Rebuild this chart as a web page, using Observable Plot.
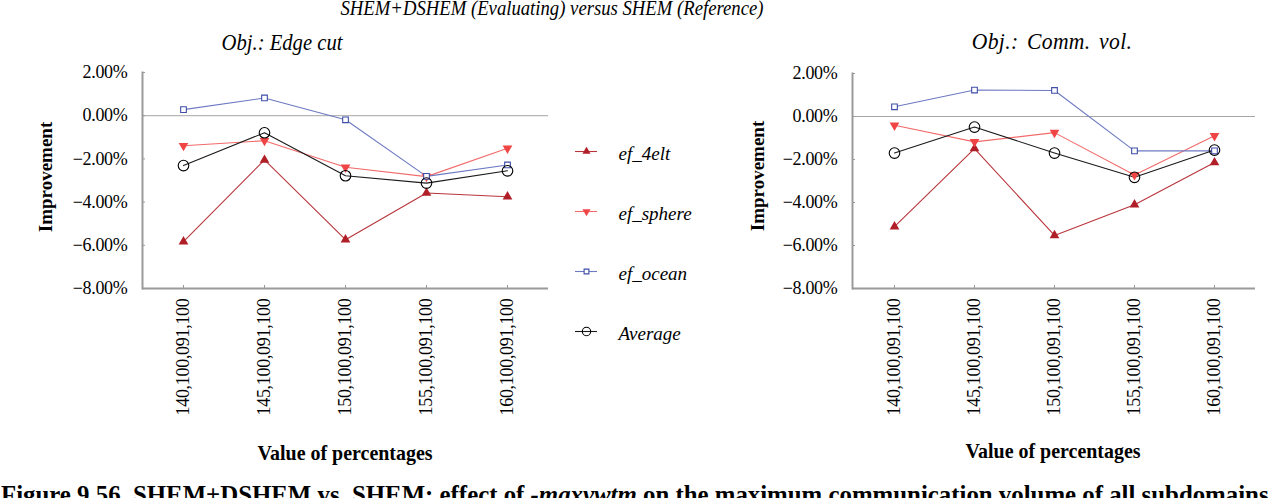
<!DOCTYPE html>
<html><head><meta charset="utf-8">
<script src="https://cdn.jsdelivr.net/npm/d3@7"></script>
<script src="https://cdn.jsdelivr.net/npm/@observablehq/plot@0.6"></script>
<style>
body{margin:0;background:#fff;}
#root{position:relative;width:1278px;height:498px;overflow:hidden;font-family:"Times New Roman",Times,"Liberation Serif","DejaVu Serif",serif;color:#000;}
.abs{position:absolute;white-space:nowrap;line-height:1;}
#root svg{position:absolute;overflow:visible;}
#root svg text{font-family:"Times New Roman",Times,"Liberation Serif","DejaVu Serif",serif;}
</style></head><body><div id="root"></div>
<script>
// ---- data ----
const categories = ["140,100,091,100", "145,100,091,100", "150,100,091,100", "155,100,091,100", "160,100,091,100"];
const seriesNames = ["ef_4elt", "ef_sphere", "ef_ocean", "Average"];
const yTicks = [0.02, 0, -0.02, -0.04, -0.06, -0.08];

// Obj.: Edge cut (percent)
const edge_ef4elt   = [-5.83, -2.05, -5.74, -3.58, -3.75];
const edge_efsphere = [-1.39, -1.16, -2.39, -2.82, -1.51];
const edge_efocean  = [0.28, 0.82, -0.19, -2.81, -2.28];
const edge_average  = [-2.31, -0.79, -2.78, -3.12, -2.55];

// Obj.: Comm. vol. (percent)
const comm_ef4elt   = [-5.12, -1.49, -5.53, -4.10, -2.14];
const comm_efsphere = [-0.41, -1.18, -0.75, -2.72, -0.90];
const comm_efocean  = [0.45, 1.23, 1.21, -1.60, -1.60];
const comm_average  = [-1.70, -0.49, -1.70, -2.83, -1.56];

// ---- styles ----
const styles = {
  "ef_4elt":   {line: "#b8353c", fill: "#b01e28", stroke: "none", symbol: "triangle", rotate: 0,   r: 3.6, lr: 3.0},
  "ef_sphere": {line: "#f26a6a", fill: "#f04545", stroke: "none", symbol: "triangle", rotate: 180, r: 3.6, lr: 3.0},
  "ef_ocean":  {line: "#6d79c2", fill: "white",   stroke: "#3f4ea8", symbol: "square",  rotate: 0,   r: 3.2, lr: 2.7},
  "Average":   {line: "#1a1a1a", fill: "none",    stroke: "#000", symbol: "circle",   rotate: 0,   r: 5.3, lr: 4.2}
};

function table(arrs) {
  const rows = [];
  seriesNames.forEach((s, i) => arrs[i].forEach((v, j) => rows.push({series: s, cat: categories[j], value: v / 100})));
  return rows;
}
const edgeRows = table([edge_ef4elt, edge_efsphere, edge_efocean, edge_average]);
const commRows = table([comm_ef4elt, comm_efsphere, comm_efocean, comm_average]);

const root = document.getElementById("root");
const fmt = d3.format(".2%");
const FONT = '"Times New Roman", Times, "Liberation Serif", "DejaVu Serif", serif';

function chart(rows, {width, marginLeft, marginRight, marginTop}) {
  const marks = [
    Plot.ruleY([0], {stroke: "#a6a6a6", strokeWidth: 1}),
    Plot.ruleY([-0.08], {stroke: "#9a9a9a", strokeWidth: 2}),
    Plot.frame({anchor: "left", stroke: "#9a9a9a", strokeWidth: 2}),
    Plot.axisY({ticks: yTicks, tickFormat: fmt, tickSize: -3, tickPadding: 18, stroke: "#9a9a9a", fill: "#000", fontSize: 18, label: null}),
    Plot.axisX({tickSize: -3, tickPadding: 13, tickRotate: -90, stroke: "#9a9a9a", fill: "#000", fontSize: 18, label: null})
  ];
  for (const s of seriesNames) {
    const st = styles[s];
    const d = rows.filter(r => r.series === s);
    marks.push(Plot.line(d, {x: "cat", y: "value", stroke: st.line, strokeWidth: 1.1}));
  }
  for (const s of seriesNames) {
    const st = styles[s];
    const d = rows.filter(r => r.series === s);
    marks.push(Plot.dot(d, {x: "cat", y: "value", symbol: st.symbol, r: st.r, fill: st.fill, stroke: st.stroke, strokeWidth: 1.1, rotate: st.rotate}));
  }
  return Plot.plot({
    width, height: 498, marginLeft, marginRight, marginTop, marginBottom: 210,
    style: {fontFamily: FONT, fontSize: "18px", background: "transparent", color: "#000", overflow: "visible", letterSpacing: "-0.3px"},
    x: {type: "point", domain: categories, padding: 0.5, label: null},
    y: {domain: [-0.08, 0.02], label: null},
    marks
  });
}

const left = chart(edgeRows, {width: 640, marginLeft: 142, marginRight: 92, marginTop: 72});
left.style.left = "0px"; left.style.top = "0px";
root.appendChild(left);

const right = chart(commRows, {width: 638, marginLeft: 212, marginRight: 23, marginTop: 73});
right.style.left = "640px"; right.style.top = "0px";
root.appendChild(right);

// legend
const legMarks = [];
for (const s of seriesNames) {
  const st = styles[s];
  legMarks.push(Plot.ruleY([s], {x1: 0, x2: 1, stroke: st.line, strokeWidth: 1.1}));
  legMarks.push(Plot.dot([s], {x: 0.5, y: d => d, symbol: st.symbol, r: st.lr, fill: st.fill, stroke: st.stroke, strokeWidth: 1.1, rotate: st.rotate}));
  legMarks.push(Plot.text([s], {x: 1, y: d => d, text: d => d, dx: 21, dy: 2, textAnchor: "start", fontStyle: "italic", fontSize: 19, fill: "#000"}));
}
const legend = Plot.plot({
  width: 140, height: 242, marginLeft: 0, marginRight: 118, marginTop: 0, marginBottom: 0,
  style: {fontFamily: FONT, background: "transparent", overflow: "visible"},
  x: {domain: [0, 1], axis: null},
  y: {type: "point", domain: seriesNames, padding: 0.5, axis: null},
  marks: legMarks
});
legend.style.left = "575px"; legend.style.top = "120px";
root.appendChild(legend);

// texts
function addText(html, css) {
  const el = document.createElement("div");
  el.className = "abs";
  el.innerHTML = html;
  Object.assign(el.style, css);
  root.appendChild(el);
  return el;
}
addText("SHEM+DSHEM (Evaluating) versus SHEM (Reference)", {left: "552px", top: "-2px", transform: "translateX(-50%) scaleX(0.89)", fontStyle: "italic", fontSize: "21px"});
addText("Obj.: Edge cut", {left: "282px", top: "30px", transform: "translateX(-50%) scaleX(0.86)", fontStyle: "italic", fontSize: "24px"});
addText("Obj.: Comm. vol.", {left: "1052px", top: "29px", transform: "translateX(-50%) scaleX(0.9)", fontStyle: "italic", fontSize: "24px", wordSpacing: "3px", letterSpacing: "0.4px"});
addText("Improvement", {left: "45px", top: "177px", transform: "translate(-50%,-50%) rotate(-90deg)", fontWeight: "bold", fontSize: "19px"});
addText("Improvement", {left: "757px", top: "176px", transform: "translate(-50%,-50%) rotate(-90deg)", fontWeight: "bold", fontSize: "19px"});
addText("Value of percentages", {left: "345px", top: "443px", transform: "translateX(-50%) scaleX(0.95)", fontWeight: "bold", fontSize: "21px"});
addText("Value of percentages", {left: "1053px", top: "441px", transform: "translateX(-50%) scaleX(0.95)", fontWeight: "bold", fontSize: "21px"});
addText("Figure 9.56. SHEM+DSHEM vs. SHEM: effect of <i>-maxvwtm</i> on the maximum communication volume of all subdomains", {left: "1px", top: "482px", transformOrigin: "0 0", transform: "scaleX(0.955)", fontWeight: "bold", fontSize: "26px"});
</script>
</body></html>
